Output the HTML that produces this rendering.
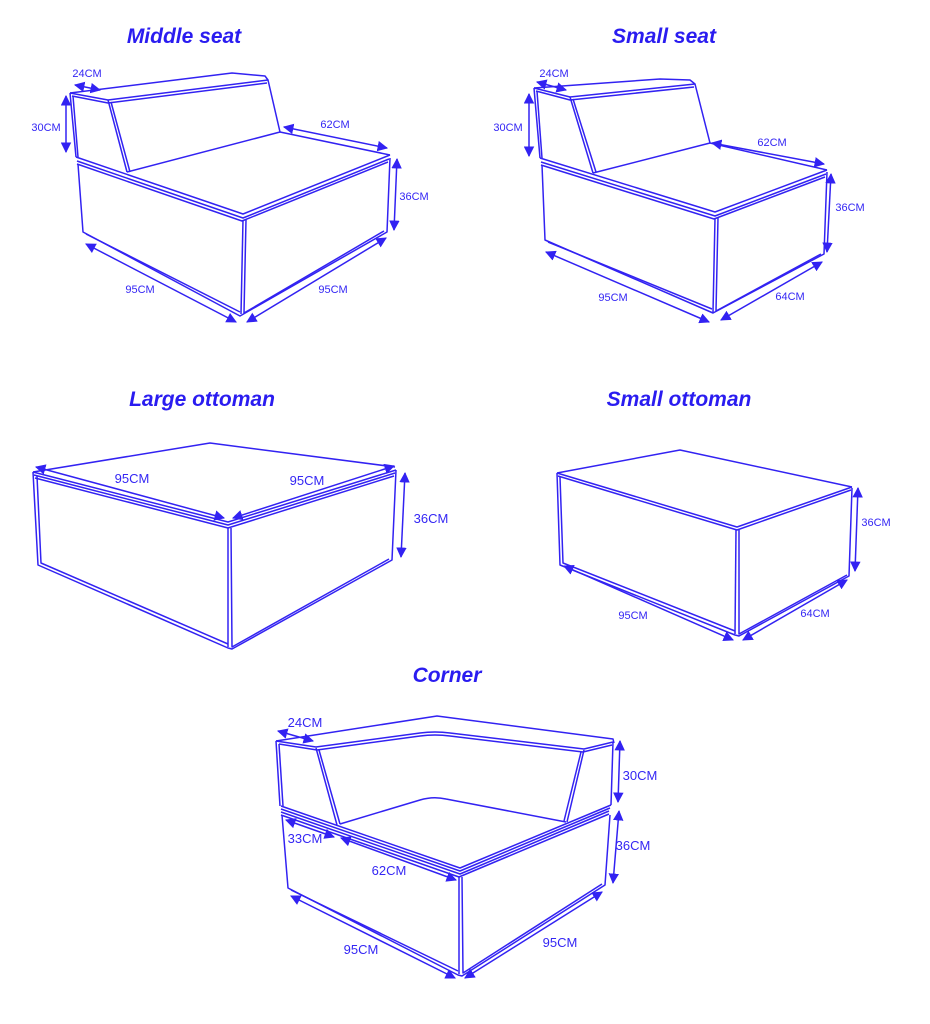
<!DOCTYPE html>
<html><head><meta charset="utf-8"><style>
html,body{margin:0;padding:0;background:#fff;}
svg{display:block}
.t{font-family:"Liberation Sans",sans-serif;font-weight:bold;font-style:italic;font-size:21px;fill:#2a1cf0;text-anchor:middle}
.l{font-family:"Liberation Sans",sans-serif;font-size:11px;fill:#3426f4;text-anchor:middle}
.L{font-family:"Liberation Sans",sans-serif;font-size:13px;fill:#3426f4;text-anchor:middle}
.s{fill:none;stroke:#3222f2;stroke-width:1.5;stroke-linejoin:round}
.a{fill:none;stroke:#3222f2;stroke-width:1.5;marker-start:url(#m);marker-end:url(#m)}
</style></head><body>
<svg width="930" height="1024" viewBox="0 0 930 1024" xmlns="http://www.w3.org/2000/svg">
<defs><marker id="m" viewBox="0 0 10 10" refX="9" refY="5" markerWidth="7" markerHeight="7" orient="auto-start-reverse"><path d="M0,0 L10,5 L0,10 z" fill="#3222f2"/></marker></defs>

<text class="t" x="184" y="43">Middle seat</text>
<text class="t" x="664" y="43">Small seat</text>
<text class="t" x="202" y="406">Large ottoman</text>
<text class="t" x="679" y="406">Small ottoman</text>
<text class="t" x="447" y="682">Corner</text>

<!-- Middle seat -->
<g class="s">
<path d="M70,93 L232,73 L265,76 L268,80 L280,132"/>
<path d="M70,93 L108,100 L268,80"/><path d="M72,96 L108,103 L267,83"/>
<path d="M108,100 L127,172"/><path d="M111,102 L130,172"/>
<path d="M70,93 L76,157"/><path d="M73,96 L78,157"/>
<path d="M127,172 L280,132 L390,155"/>
<path d="M76,157 L243,214 L390,155"/><path d="M77,161 L243,218 L389,159"/><path d="M77,164 L242,221 L388,162"/>
<path d="M78,164 L83,232 L240,316 L387,232 L390,158"/><path d="M86,234 L240,312"/>
<path d="M243,220 L241,314"/><path d="M246,220 L244,313 L384,231"/>
</g>
<path class="a" d="M75,85 L100,90"/><path class="a" d="M66,96 L66,152"/>
<path class="a" d="M284,127 L387,148"/><path class="a" d="M397,159 L394,230"/>
<path class="a" d="M86,244 L236,322"/><path class="a" d="M247,322 L386,238"/>
<text class="l" x="87" y="77">24CM</text><text class="l" x="46" y="131">30CM</text>
<text class="l" x="335" y="128">62CM</text><text class="l" x="414" y="200">36CM</text>
<text class="l" x="140" y="293">95CM</text><text class="l" x="333" y="293">95CM</text>

<!-- Small seat -->
<g class="s">
<path d="M534,88 L660,79 L690,80 L695,84 L710,143"/>
<path d="M534,88 L570,97 L695,84"/><path d="M536,91 L570,100 L694,87"/>
<path d="M570,97 L593,173"/><path d="M573,99 L596,172"/>
<path d="M534,88 L540,158"/><path d="M537,91 L542,158"/>
<path d="M593,173 L710,143 L827,170"/>
<path d="M540,158 L715,212 L827,170"/><path d="M541,162 L715,216 L826,174"/><path d="M541,165 L714,219 L825,177"/>
<path d="M542,165 L545,240 L713,313 L824,254 L827,172"/><path d="M548,242 L712,309"/>
<path d="M715,218 L713,312"/><path d="M718,218 L716,311 L821,254"/>
</g>
<path class="a" d="M537,82 L566,90"/><path class="a" d="M529,94 L529,156"/>
<path class="a" d="M712,143 L824,164"/><path class="a" d="M831,174 L827,252"/>
<path class="a" d="M546,252 L709,322"/><path class="a" d="M721,320 L822,262"/>
<text class="l" x="554" y="77">24CM</text><text class="l" x="508" y="131">30CM</text>
<text class="l" x="772" y="146">62CM</text><text class="l" x="850" y="211">36CM</text>
<text class="l" x="613" y="301">95CM</text><text class="l" x="790" y="300">64CM</text>

<!-- Large ottoman -->
<g class="s">
<path d="M33,472 L210,443 L395,467"/>
<path d="M33,472 L228,522 L396,470"/><path d="M34,475 L228,525 L395,473"/><path d="M35,478 L228,528 L394,476"/>
<path d="M33,472 L38,565 L228,648 L232,649 L392,560 L396,470"/>
<path d="M37,476 L41,563 L228,644"/>
<path d="M228,528 L228,647"/><path d="M231,528 L232,647 L389,559"/>
</g>
<path class="a" d="M36,467 L224,518"/><path class="a" d="M233,518 L394,466"/>
<path class="a" d="M405,473 L401,557"/>
<text class="L" x="132" y="483">95CM</text><text class="L" x="307" y="485">95CM</text><text class="L" x="431" y="523">36CM</text>

<!-- Small ottoman -->
<g class="s">
<path d="M557,473 L680,450 L852,487"/>
<path d="M557,473 L737,527 L852,487"/><path d="M558,476 L737,530 L851,490"/>
<path d="M557,473 L560,565 L735,635 L739,636 L849,576 L852,488"/>
<path d="M560,477 L563,563 L735,631"/>
<path d="M736,530 L735,634"/><path d="M739,530 L739,634 L847,575"/>
</g>
<path class="a" d="M858,488 L855,571"/><path class="a" d="M564,566 L733,640"/>
<path class="a" d="M743,640 L847,580"/>
<text class="l" x="876" y="526">36CM</text><text class="l" x="633" y="619">95CM</text><text class="l" x="815" y="617">64CM</text>

<!-- Corner -->
<g class="s">
<path d="M276,741 L437,716 L613,739 L614,743"/>
<path d="M276,741 L316,747 L420,733 Q435,731 450,733 L584,749 L613,742"/>
<path d="M279,744 L317,750 L420,736 Q435,734 450,736 L583,752 L612,745"/>
<path d="M316,748 L337,825"/><path d="M319,750 L340,824"/>
<path d="M584,750 L567,822"/><path d="M581,752 L564,821"/>
<path d="M276,741 L280,806"/><path d="M279,744 L283,806"/>
<path d="M613,742 L611,805"/>
<path d="M340,824 L420,800 Q433,796 446,799 L566,822"/>
<path d="M281,806 L460,868 L611,805"/><path d="M281,809 L460,871 L610,808"/><path d="M281,812 L460,874 L609,811"/><path d="M281,815 L459,877 L609,814"/>
<path d="M282,815 L288,888 L458,975 L462,976 L605,885 L610,815"/>
<path d="M291,890 L458,971"/>
<path d="M459,877 L459,974"/><path d="M462,877 L463,973 L602,884"/>
</g>
<path class="a" d="M278,731 L313,741"/><path class="a" d="M620,741 L618,802"/>
<path class="a" d="M619,811 L613,883"/><path class="a" d="M286,820 L334,837"/>
<path class="a" d="M341,838 L456,880"/><path class="a" d="M291,896 L455,978"/>
<path class="a" d="M465,978 L602,892"/>
<text class="L" x="305" y="727">24CM</text><text class="L" x="640" y="780">30CM</text>
<text class="L" x="633" y="850">36CM</text><text class="L" x="305" y="843">33CM</text>
<text class="L" x="389" y="875">62CM</text><text class="L" x="361" y="954">95CM</text>
<text class="L" x="560" y="947">95CM</text>
</svg>
</body></html>
